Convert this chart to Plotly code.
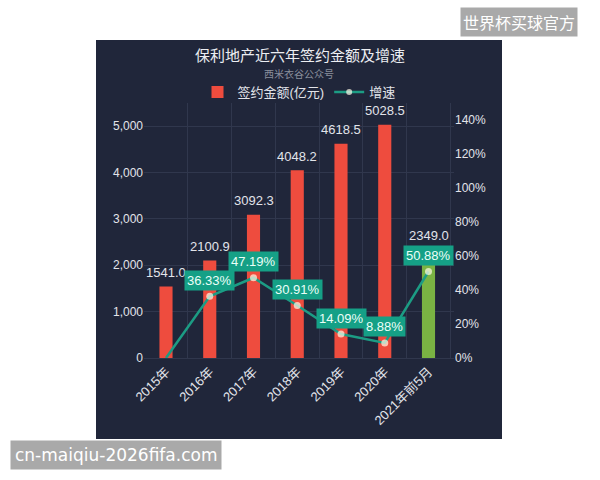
import plotly.graph_objects as go

categories = ["2015年", "2016年", "2017年", "2018年", "2019年", "2020年", "2021年前5月"]
sales = [1541.0, 2100.9, 3092.3, 4048.2, 4618.5, 5028.5, 2349.0]
growth = [0.0, 0.3633, 0.4719, 0.3091, 0.1409, 0.0888, 0.5088]
left_ticks = [0, 1000, 2000, 3000, 4000, 5000]
right_ticks = [0, 0.2, 0.4, 0.6, 0.8, 1.0, 1.2, 1.4]

W, H = 600, 480
L, R, T, B = 144, 146, 103, 122
PW, PH = W - L - R, H - T - B


def px(x):
    return (x - L) / PW


def py(y):
    return (H - B - y) / PH


FONT = "Liberation Sans, Arial, Noto Sans CJK SC, sans-serif"
TXT = "#e2e4ea"
bar_colors = ["#ee4c3e"] * (len(sales) - 1) + ["#7ab343"]

fig = go.Figure()
fig.add_trace(go.Bar(
    x=categories, y=sales, name="签约金额(亿元)",
    marker=dict(color=bar_colors, line=dict(width=0)),
    width=0.3, yaxis="y",
))
fig.add_trace(go.Scatter(
    x=categories, y=growth, name="增速", mode="lines+markers",
    line=dict(color="#1c9c84", width=2.5),
    marker=dict(color="#fffbe8", size=[0 if g == 0 else 7 for g in growth],
                line=dict(width=0)),
    yaxis="y2", cliponaxis=False,
))

# bar value labels (drawn first so growth boxes sit on top)
for c, v in zip(categories, sales):
    fig.add_annotation(
        x=c, y=v, xref="x", yref="y", text=f"{v:.1f}",
        showarrow=False, yshift=14, yanchor="middle",
        font=dict(color=TXT, size=13, family=FONT),
    )

for c, g in zip(categories, growth):
    if g == 0:
        continue
    fig.add_annotation(
        x=c, y=g, xref="x", yref="y2", text=f"{g*100:.2f}%",
        showarrow=False, yshift=16, yanchor="middle", bgcolor="#15a086",
        font=dict(color="#eafff8", size=13, family=FONT),
        borderpad=2,
    )

# panel background
fig.add_shape(type="rect", xref="paper", yref="paper",
              x0=px(96), x1=px(502), y0=py(439), y1=py(40),
              fillcolor="#20263a", line=dict(width=0), layer="below")

fig.add_annotation(xref="paper", yref="paper", x=px(299), y=py(74),
                   xanchor="center", yanchor="middle",
                   text="西米衣谷公众号", showarrow=False,
                   font=dict(color="#8a8f9c", size=10, family="Noto Sans CJK SC"))

# watermarks
fig.add_annotation(xref="paper", yref="paper", x=px(519), y=py(21.5),
                   text="世界杯买球官方", showarrow=False, bgcolor="#a9a9a9",
                   font=dict(color="#ffffff", size=16, family="Noto Sans CJK SC"),
                   borderpad=2, xanchor="center", yanchor="middle")
fig.add_annotation(xref="paper", yref="paper", x=px(115.5), y=py(455),
                   text="cn-maiqiu-2026fifa.com", showarrow=False, bgcolor="#a9a9a9",
                   font=dict(color="#ffffff", size=17, family="DejaVu Sans"),
                   borderpad=4, xanchor="center", yanchor="middle")

grid = "#30374d"
fig.update_layout(
    width=W, height=H,
    margin=dict(l=L, r=R, t=T, b=B),
    paper_bgcolor="#ffffff", plot_bgcolor="rgba(0,0,0,0)",
    title=dict(text="保利地产近六年签约金额及增速", x=0.5, xanchor="center",
               y=1 - 56 / H, yanchor="middle",
               font=dict(color="#eceef2", size=15, family="Noto Sans CJK SC")),
    legend=dict(orientation="h", x=0.5, xanchor="center", y=py(92), yanchor="middle",
                font=dict(color=TXT, size=13, family=FONT),
                bgcolor="rgba(0,0,0,0)", itemwidth=30),
    bargap=0.7,
    xaxis=dict(type="category", tickson="boundaries", showgrid=True, gridcolor=grid,
               tickangle=-45, tickfont=dict(color=TXT, size=13, family=FONT),
               showline=True, linecolor=grid, ticks=""),
    yaxis=dict(range=[0, 5500], tickvals=left_ticks, tickformat=",d",
               showgrid=True, gridcolor=grid, zeroline=False,
               tickfont=dict(color=TXT, size=12, family=FONT)),
    yaxis2=dict(range=[0, 1.5], tickvals=right_ticks, tickformat=".0%",
                overlaying="y", side="right", showgrid=False, zeroline=False,
                tickfont=dict(color=TXT, size=12, family=FONT)),
    showlegend=True,
)

fig.write_html("out.html")
